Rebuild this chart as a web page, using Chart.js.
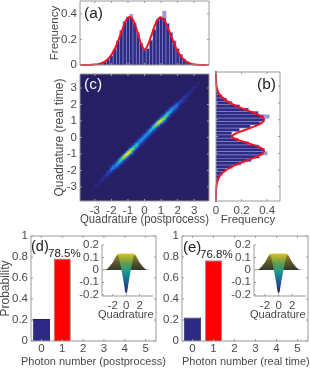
<!DOCTYPE html>
<html>
<head>
<meta charset="utf-8">
<script src="https://cdn.jsdelivr.net/npm/chart.js@4"></script>
<style>
  html, body { margin: 0; padding: 0; background: #fff; width: 310px; height: 368px; overflow: hidden; }
  canvas { position: absolute; }
  .tag { position: absolute; font-family: "Liberation Sans", sans-serif; color: #222; white-space: nowrap; line-height: 1; }
</style>
</head>
<body>
<script>
// histogram bins shared by (a) and (b)
const binCenters = [-3.2,-3.0,-2.8,-2.6,-2.4,-2.2,-2.0,-1.8,-1.6,-1.4,-1.2,-1.0,-0.8,-0.6,-0.4,-0.2,0,0.2,0.4,0.6,0.8,1.0,1.2,1.4,1.6,1.8,2.0,2.2,2.4,2.6,2.8,3.0,3.2];
const histA = [0,0.002,0.006,0.012,0.022,0.042,0.07,0.12,0.185,0.265,0.335,0.375,0.37,0.325,0.25,0.165,0.115,0.125,0.19,0.275,0.35,0.37,0.365,0.32,0.25,0.185,0.125,0.08,0.045,0.024,0.01,0.005,0.001];
const histASpikes = [0,0.002,0.006,0.013,0.024,0.044,0.072,0.122,0.19,0.27,0.34,0.375,0.395,0.33,0.255,0.17,0.12,0.128,0.195,0.28,0.355,0.375,0.42,0.325,0.255,0.19,0.128,0.083,0.047,0.025,0.011,0.005,0.001];
const histB = [0,0.002,0.005,0.012,0.024,0.045,0.075,0.125,0.19,0.27,0.335,0.365,0.375,0.33,0.25,0.17,0.12,0.12,0.18,0.265,0.34,0.375,0.37,0.325,0.25,0.18,0.12,0.08,0.045,0.022,0.01,0.004,0.001];
const histBSpikes = [0,0.002,0.005,0.013,0.026,0.047,0.078,0.128,0.195,0.275,0.34,0.40,0.38,0.335,0.255,0.175,0.124,0.124,0.185,0.27,0.345,0.38,0.415,0.33,0.255,0.185,0.124,0.083,0.047,0.023,0.011,0.004,0.001];

// red fit curves
const fitX = [-3.9,-3.4,-3.0,-2.8,-2.6,-2.4,-2.2,-2.0,-1.8,-1.6,-1.4,-1.2,-1.0,-0.8,-0.6,-0.4,-0.2,0,0.2,0.4,0.6,0.8,1.0,1.2,1.4,1.6,1.8,2.0,2.2,2.4,2.6,2.8,3.0,3.4,3.9];
const fitA = [0,0.0005,0.003,0.007,0.014,0.027,0.048,0.08,0.125,0.185,0.255,0.325,0.37,0.37,0.325,0.245,0.165,0.122,0.155,0.225,0.3,0.355,0.372,0.35,0.295,0.23,0.165,0.11,0.07,0.04,0.02,0.01,0.004,0.0005,0];
const fitB = [0,0.0005,0.003,0.007,0.014,0.027,0.048,0.08,0.125,0.185,0.25,0.32,0.365,0.372,0.33,0.25,0.17,0.125,0.16,0.23,0.3,0.355,0.375,0.355,0.3,0.23,0.165,0.11,0.07,0.04,0.02,0.01,0.004,0.0005,0];

// (c) rows from y=3.3 down in steps of 0.1, each string centred on the diagonal, digit = colour level
const heatRows = [
  '1','0','010','101','1','111','01110','01110','11211','01210','11211','01221','12221','12321','13331',
  '1233321','1234321','1235321','1245421','1246421','1246531','1257631','1368741','1379742','1389742',
  '1378631','1367531','1256421','1245421','1245321','1234321','1234321','1234321','1234321','1234321',
  '1234321','1234321','1245321','1246421','1256431','1367531','1378631','1389731','1399742','1389731',
  '1378631','1367531','1256421','1245421','1235321','1234321','1233321','13331','12321','12221',
  '01210','11211','01110','111','01110','101','1','010','1','0','1'
];
const heatColors = ['#261f63','#29298c','#2145bc','#1f72d8','#17a0dc','#22bfb8','#4fc97f','#93d13f','#cfd324','#f0e326'];

// (d), (e) bars
const photonLabels = ['0','1','2','3','4','5'];
const photonD = [0.21,0.785,0.002,0.002,0.002,0.002];
const photonE = [0.225,0.768,0.002,0.002,0.002,0.002];

// inset Wigner silhouette and central dip
const wignerX = [-3.6,-3.2,-2.9,-2.6,-2.3,-2.0,-1.7,-1.4,-1.2,1.2,1.4,1.7,2.0,2.3,2.6,2.9,3.2,3.6];
const wignerTop = [0,0.001,0.006,0.02,0.04,0.06,0.09,0.122,0.13,0.13,0.122,0.09,0.06,0.04,0.02,0.006,0.001,0];
const dipX = [-1.2,-0.7,-0.4,-0.15,0,0.15,0.4,0.7,1.2];
const dipY = [0.13,0,-0.09,-0.175,-0.19,-0.175,-0.09,0,0.13];

const freqTicks = [0,0.2,0.4];
const quadTicks = [-3,-2,-1,0,1,2,3];
const probTicks = [0,0.2,0.4,0.6,0.8,1];
const insetYTicks = [-0.2,-0.1,0,0.1,0.2];
const insetXTicks = [-2,0,2];

const FONT = '"Liberation Sans", sans-serif';
const TEXT = '#4a4a4a';
const NAVY = '#2d2a85';
const AXIS = '#9a9a9a';

Chart.defaults.animation = false;
Chart.defaults.events = [];
Chart.defaults.font.family = FONT;
Chart.defaults.plugins.legend.display = false;
Chart.defaults.plugins.tooltip.enabled = false;

// matlab style box with inward ticks
const boxTicks = {
  id: 'boxTicks',
  beforeDraw(chart, args, opts) {
    if (!opts.fill) return;
    const a = chart.chartArea;
    chart.ctx.fillStyle = opts.fill;
    chart.ctx.fillRect(a.left, a.top, a.right - a.left, a.bottom - a.top);
  },
  afterDraw(chart, args, opts) {
    const a = chart.chartArea, ctx = chart.ctx, len = opts.tick || 2;
    ctx.save();
    ctx.strokeStyle = opts.color || AXIS;
    ctx.lineWidth = 1;
    ctx.beginPath();
    ctx.moveTo(a.left, a.top);
    ctx.lineTo(a.left, a.bottom);
    ctx.lineTo(a.right, a.bottom);
    if (!opts.open) { ctx.lineTo(a.right, a.top); ctx.closePath(); }
    chart.scales.x.ticks.forEach((t, i) => {
      const p = chart.scales.x.getPixelForTick(i);
      ctx.moveTo(p, a.bottom); ctx.lineTo(p, a.bottom - len);
      if (!opts.open) { ctx.moveTo(p, a.top); ctx.lineTo(p, a.top + len); }
    });
    chart.scales.y.ticks.forEach((t, i) => {
      const p = chart.scales.y.getPixelForTick(i);
      ctx.moveTo(a.left, p); ctx.lineTo(a.left + len, p);
      if (!opts.open) { ctx.moveTo(a.right, p); ctx.lineTo(a.right - len, p); }
    });
    ctx.stroke();
    ctx.restore();
  }
};

function addCanvas(left, top, width, height) {
  const c = document.createElement('canvas');
  c.width = width; c.height = height;
  c.style.left = left + 'px'; c.style.top = top + 'px';
  c.style.width = width + 'px'; c.style.height = height + 'px';
  document.body.appendChild(c);
  return c;
}

function addTag(text, left, centerY, size, color) {
  const d = document.createElement('div');
  d.className = 'tag';
  d.textContent = text;
  d.style.left = left + 'px';
  d.style.top = (centerY - size / 2) + 'px';
  d.style.fontSize = size + 'px';
  if (color) d.style.color = color;
  document.body.appendChild(d);
}

// one axis; thickness is the fixed room it takes beside the plot
function axis(o) {
  const s = {
    type: o.type || 'linear',
    min: o.min, max: o.max,
    offset: o.type === 'category',
    grid: { display: false, drawTicks: false },
    border: { display: false },
    ticks: {
      display: !o.hideLabels,
      autoSkip: false, maxRotation: 0,
      color: TEXT, padding: o.tickPad === undefined ? 3 : o.tickPad,
      font: { size: o.tickSize || 11.5 },
      callback(v) { return o.type === 'category' ? this.getLabelForValue(v) : String(v); }
    },
    afterFit(scale) {
      if (scale.isHorizontal()) scale.height = o.thickness; else scale.width = o.thickness;
      scale.paddingTop = scale.paddingBottom = scale.paddingLeft = scale.paddingRight = 0;
    }
  };
  if (o.values) s.afterBuildTicks = scale => { scale.ticks = o.values.map(v => ({ value: v })); };
  if (o.title) {
    s.title = { display: true, text: o.title, color: TEXT, font: { size: o.titleSize || 12 }, padding: { top: o.titlePad || 0, bottom: o.titlePad || 0 } };
  }
  return s;
}

function histDatasets(values, spikes, fit, horizontal) {
  const pt = horizontal ? (p, v) => ({ x: v, y: p }) : (p, v) => ({ x: p, y: v });
  const bar = { type: 'bar', indexAxis: horizontal ? 'y' : 'x', categoryPercentage: 1, grouped: false };
  return [
    { type: 'scatter', showLine: true, data: fitX.map((p, i) => pt(p, fit[i])), borderColor: '#f5111f', borderWidth: 2, pointRadius: 0, tension: 0.4, clip: false, order: 0 },
    { ...bar, data: binCenters.map((p, i) => pt(p, values[i])), backgroundColor: '#2f2b88', barPercentage: 0.8, order: 1 },
    { ...bar, data: binCenters.map((p, i) => pt(p, spikes[i])), backgroundColor: '#9d9ad0', barPercentage: 1, order: 2 }
  ];
}

// (a)
new Chart(addCanvas(45, 0, 167, 72), {
  type: 'bar',
  data: { datasets: histDatasets(histA, histASpikes, fitA, false) },
  options: {
    responsive: false,
    layout: { padding: { top: 1, right: 3 } },
    scales: {
      x: axis({ min: -3.9, max: 3.9, values: quadTicks, hideLabels: true, thickness: 7 }),
      y: axis({ min: 0, max: 0.5, values: freqTicks, thickness: 35, title: 'Frequency', titlePad: 2.8, titleSize: 11.5 })
    },
    plugins: { boxTicks: {} }
  },
  plugins: [boxTicks]
});

// (b)
new Chart(addCanvas(206, 70, 80, 160), {
  type: 'bar',
  data: { datasets: histDatasets(histB, histBSpikes, fitB, true) },
  options: {
    responsive: false,
    layout: { padding: { top: 2, right: 6 } },
    scales: {
      x: axis({ min: 0, max: 0.5, values: freqTicks, thickness: 29, title: 'Frequency', titlePad: 2.8, titleSize: 11.5 }),
      y: axis({ min: -3.85, max: 3.85, values: quadTicks, hideLabels: true, thickness: 10 })
    },
    plugins: { boxTicks: {} }
  },
  plugins: [boxTicks]
});

// (c)
const heatPoints = [], heatFill = [];
heatRows.forEach((row, r) => {
  const y = 3.3 - r * 0.1;
  [...row].forEach((d, k) => {
    if (d === '0') return;
    heatPoints.push({ x: y + (k - (row.length - 1) / 2) * 0.1, y });
    heatFill.push(heatColors[+d]);
  });
});
new Chart(addCanvas(50, 70, 165, 160), {
  type: 'scatter',
  data: { datasets: [{ data: heatPoints, pointStyle: 'rect', pointRadius: 1.5, pointBorderWidth: 0, backgroundColor: heatFill }] },
  options: {
    responsive: false,
    layout: { padding: { top: 2, right: 6 } },
    scales: {
      x: axis({ min: -3.9, max: 3.9, values: quadTicks, thickness: 29, title: 'Quadrature (postprocess)', titlePad: 2.8 }),
      y: axis({ min: -3.85, max: 3.85, values: quadTicks, thickness: 30, title: 'Quadrature (real time)', titlePad: 2.8 })
    },
    plugins: { boxTicks: { fill: heatColors[0] } }
  },
  plugins: [boxTicks]
});

// (d), (e)
function photonChart(canvas, values, yThick, yTitle, padRight) {
  new Chart(canvas, {
    type: 'bar',
    data: {
      labels: photonLabels,
      datasets: [{
        data: values,
        backgroundColor: [NAVY, '#ff0000', NAVY, NAVY, NAVY, NAVY],
        borderColor: ['#23205f', '#9a8a8a', '#23205f', '#23205f', '#23205f', '#23205f'],
        borderWidth: 1, barPercentage: 0.83, categoryPercentage: 1
      }]
    },
    options: {
      responsive: false,
      layout: { padding: { top: 10, right: padRight } },
      scales: {
        x: axis({ type: 'category', thickness: 27, tickPad: 1 }),
        y: axis({ min: 0, max: 1, values: probTicks, thickness: yThick, title: yTitle })
      },
      plugins: { boxTicks: { tick: 2 } }
    },
    plugins: [boxTicks]
  });
}
photonChart(addCanvas(-2, 226, 172, 142), photonD, 33, 'Probability', 14);
photonChart(addCanvas(155, 226, 155, 142), photonE, 27, undefined, 2);

// inset surface seen edge-on
function yGrad(ctx, stops) {
  const y = ctx.chart.scales.y;
  const top = y ? y.getPixelForValue(0.13) : NaN, bottom = y ? y.getPixelForValue(-0.19) : NaN;
  if (!isFinite(top) || !isFinite(bottom)) return stops[0][1];
  const g = ctx.chart.ctx.createLinearGradient(0, top, 0, bottom);
  stops.forEach(s => g.addColorStop(s[0], s[1]));
  return g;
}
function insetChart(canvas) {
  new Chart(canvas, {
    type: 'scatter',
    data: {
      datasets: [
        {
          showLine: true, pointRadius: 0, borderWidth: 0, fill: { value: 0.13 },
          data: dipX.map((x, i) => ({ x, y: dipY[i] })),
          backgroundColor: ctx => yGrad(ctx, [[0, '#d8c020'], [0.25, '#5f9a50'], [0.45, '#1f9a90'], [0.7, '#1f5f9a'], [1, '#23206a']]),
          order: 0
        },
        {
          showLine: true, pointRadius: 0, borderWidth: 0, fill: 'origin',
          data: wignerX.map((x, i) => ({ x, y: wignerTop[i] })),
          backgroundColor: ctx => yGrad(ctx, [[0, '#f5dc20'], [0.07, '#8a7d28'], [0.25, '#55502a'], [0.41, '#2f3a28'], [1, '#2f3a28']]),
          order: 1
        }
      ]
    },
    options: {
      responsive: false,
      layout: { padding: { top: 7, right: 7 } },
      scales: {
        x: axis({ min: -3.6, max: 4, values: insetXTicks, thickness: 27 }),
        y: axis({ min: -0.21, max: 0.2, values: insetYTicks, thickness: 32 })
      },
      plugins: { boxTicks: { open: true } }
    },
    plugins: [boxTicks]
  });
}
insetChart(addCanvas(70, 238, 90, 85));
insetChart(addCanvas(222, 238, 91, 85));

addTag('(a)', 84, 13, 15.5);
addTag('(b)', 257, 84, 15.5);
addTag('(c)', 84, 84, 15.5, '#f4f4f4');
addTag('(d)', 31, 246, 14.5);
addTag('(e)', 183, 246, 15);
addTag('78.5%', 48, 254, 11.5);
addTag('76.8%', 200, 255, 11.5);
addTag('Quadrature', 98, 314, 11, TEXT);
addTag('Quadrature', 250, 314, 11, TEXT);
addTag('Photon number (postprocess)', 21, 361, 11, TEXT);
addTag('Photon number (real time)', 182, 361, 11, TEXT);
</script>
</body>
</html>
